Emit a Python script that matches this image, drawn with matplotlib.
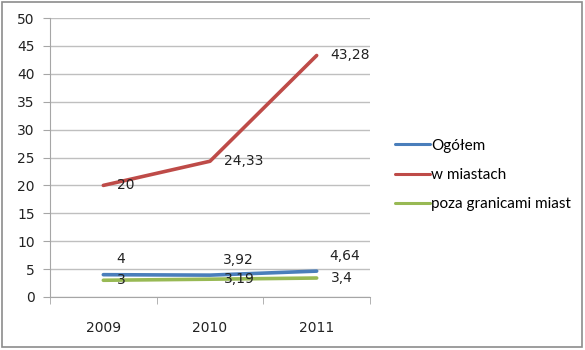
import matplotlib.pyplot as plt
from matplotlib.patches import Rectangle

years = ["2009", "2010", "2011"]
ogolem = [4, 3.92, 4.64]
w_miastach = [20, 24.33, 43.28]
poza = [3, 3.19, 3.4]

series = [
    ("Ogółem", ogolem, "#4A7EBB"),
    ("w miastach", w_miastach, "#BE4B48"),
    ("poza granicami miast", poza, "#98B954"),
]

def fmt(v):
    return ("%g" % v).replace(".", ",")

fig = plt.figure(figsize=(5.85, 3.5), dpi=100)
ax = fig.add_axes([50 / 585, 53 / 350, 320 / 585, 279 / 350])

# outer chart frame
fig.patches.append(Rectangle((2 / 585, 3 / 350), 580 / 585, 345 / 350,
                             transform=fig.transFigure, fill=False,
                             edgecolor="#8C8C8C", linewidth=1.2))

x = list(range(len(years)))
for name, vals, col in series:
    ax.plot(x, vals, color=col, linewidth=2.6, label=name, solid_capstyle="round")

# data labels: blue above, others to the right
for i, v in enumerate(ogolem):
    ax.annotate(fmt(v), (i, v), xytext=(9, 6), textcoords="offset points",
                va="bottom", ha="left", fontsize=10, color="#222222")
for vals in (w_miastach, poza):
    for i, v in enumerate(vals):
        ax.annotate(fmt(v), (i, v), xytext=(10, 0), textcoords="offset points",
                    va="center", ha="left", fontsize=10, color="#222222")

ax.set_xlim(-0.5, 2.5)
ax.set_ylim(0, 50)
ax.set_yticks(range(0, 51, 5))
ax.set_xticks(x)
ax.set_xticklabels(years)
ax.set_xticks([-0.5, 0.5, 1.5, 2.5], minor=True)
ax.tick_params(axis="x", which="major", length=0, pad=17, labelsize=10, labelcolor="#222222")
ax.tick_params(axis="x", which="minor", length=5, color="#A6A6A6")
ax.tick_params(axis="y", length=5, color="#A6A6A6", labelsize=10, labelcolor="#222222", pad=6)
ax.grid(axis="y", color="#BFBFBF", linewidth=1)
ax.set_axisbelow(True)
for side in ("top", "right"):
    ax.spines[side].set_visible(False)
for side in ("left", "bottom"):
    ax.spines[side].set_color("#A6A6A6")

# legend sits at the vertical middle of the whole figure
handles, labels = ax.get_legend_handles_labels()
leg = fig.legend(handles, labels, loc="center left", bbox_to_anchor=(381 / 585, 0.5),
                 frameon=False, prop={"family": "Lato", "size": 11}, handlelength=2.3,
                 handletextpad=0.1, labelspacing=1.0)
for h in leg.get_lines():
    h.set_linewidth(2.2)

fig.savefig("out.png", dpi=100)
